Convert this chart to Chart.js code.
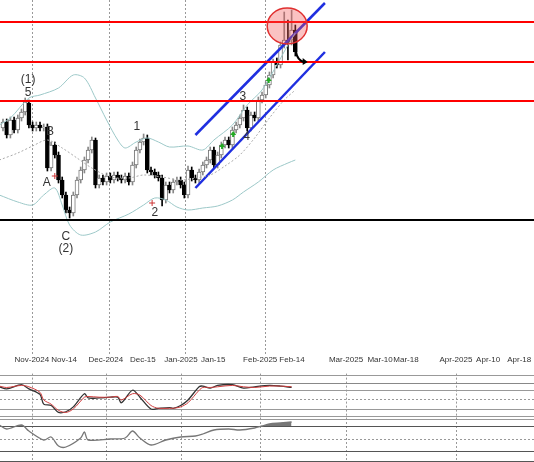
<!DOCTYPE html>
<html><head><meta charset="utf-8">
<script src="https://cdn.jsdelivr.net/npm/chart.js@4.4.1/dist/chart.umd.min.js"></script>
<style>
html,body{margin:0;padding:0;background:#fff;width:534px;height:462px;overflow:hidden;font-family:"Liberation Sans",Arial,sans-serif}
canvas{position:absolute;left:0}
</style></head><body>
<canvas id="main" style="top:0px" width="534" height="354"></canvas>
<canvas id="stoch" style="top:354px" width="534" height="64"></canvas>
<canvas id="vol" style="top:418px" width="534" height="44"></canvas>
<script>
// Values are in the chart's own (reversed) price units
const opens  = [128,122,135,120,130,118,112,103,125,128,125,128,127,168,145,155,180,195,210,213,195,180,170,160,150,140,185,178,182,176,180,175,178,180,176,182,165,150,142,138,170,172,175,178,200,185,190,182,180,185,195,170,178,180,172,165,160,150,165,155,145,140,145,130,125,118,110,128,115,118,100,95,85,75,62,65,45,40,40,30];
const closes = [122,135,120,130,118,112,102,125,128,125,128,127,168,145,155,180,195,210,213,195,180,170,160,150,140,185,178,182,176,180,175,178,180,176,182,165,150,142,138,170,172,175,178,200,185,190,182,180,185,195,170,178,180,172,165,160,150,165,155,145,140,145,130,125,118,110,128,115,118,100,95,85,75,62,65,45,40,42,30,52];
const highs  = [119,119,117,117,115,109,98,100,122,122,122,124,124,142,142,152,177,192,207,192,177,167,157,147,137,138,175,175,173,173,172,172,175,173,173,162,147,139,134,135,167,169,172,175,182,182,179,177,177,182,166,167,175,169,162,157,147,147,152,142,137,137,127,122,115,105,107,112,112,97,92,82,72,59,58,42,12,20,10,25];
const lows   = [131,138,138,133,133,121,115,128,131,131,131,131,171,171,158,183,198,213,218,216,198,183,173,163,153,188,188,185,185,183,183,181,183,183,185,185,168,153,145,173,175,178,181,206,203,193,193,185,188,198,198,181,183,183,175,168,163,168,168,158,148,148,148,133,128,121,131,131,121,121,103,98,88,78,68,68,48,60,45,56];
const bbUpper = [[-1,125],[2,118],[7,98],[10,95],[15,88],[19,75],[22,78],[25,98],[28,120],[31,140],[33,148],[36,142],[39,138],[42,142],[45,147],[50,146],[54,150],[57,140],[62,125],[66,105],[70,90],[74,65],[77,45],[79,33]];
const bbMiddle = [[-1,160],[4,153],[8,146],[12,140],[16,148],[20,158],[24,168],[29,177],[34,178],[38,175],[43,177],[48,180],[52,178],[56,175],[60,166],[64,155],[68,138],[72,118],[76,100],[79,90]];
const bbLower = [[-1,195],[4,202],[8,205],[11,195],[14,188],[16,205],[18,225],[21,235],[25,232],[29,222],[34,214],[38,205],[41,198],[44,200],[47,207],[50,210],[54,208],[58,206],[62,200],[65,192],[69,182],[73,170],[77,163],[79,160]];
const stochK = [[-1,373],[1,376],[5,370],[7,376],[10,384],[11,398],[13,400],[15,410],[17,409],[19,402],[22,383],[23,389],[26,389],[29,388],[31,388],[32,396],[35,378],[37,388],[40,405],[42,404],[45,403],[46,404],[48,400],[50,392],[53,373],[54,372],[56,375],[58,371],[62,370],[65,375],[68,373],[72,371],[75,372],[78,374]];
const stochD = [[-1,372],[1,374],[5,371],[7,373],[10,381],[11,392],[13,398],[15,407],[17,410],[19,405],[22,388],[23,387],[26,388],[29,388],[31,387],[32,392],[35,383],[37,385],[40,400],[42,404],[45,404],[46,404],[48,402],[50,396],[53,378],[54,374],[56,374],[58,373],[62,371],[65,373],[68,374],[72,372],[75,372],[78,373]];
const momentum = [[-1,425],[1,429],[5,425],[7,431],[11,440],[13,437],[15,446],[17,447],[21,438],[22,432],[23,440],[29,439],[33,438],[35,431],[37,438],[40,445],[44,440],[48,437],[52,436],[54,434],[57,430],[61,429],[64,430],[68,428],[70,426],[72,424],[75,423],[78,422]];
const redLevels = [22,62,101];
const blackLevel = 220;
const channelUpper = [[52,135],[87,3]];
const channelLower = [[52,188],[87,52]];
const tickLabels = ["Nov-2024","Nov-14","Dec-2024","Dec-15","Jan-2025","Jan-15","Feb-2025","Feb-14","Mar-2025","Mar-10","Mar-18","Apr-2025","Apr-10","Apr-18"];
const tickPos = [7.8,16.5,27.8,37.8,48.1,56.8,69.5,78.1,92.7,101.9,108.9,122.4,131.1,139.5];
const mainGrid = [7.8,28.6,49.2,70.8];
const waveLabels = [["(1)",6.8,80],["5",6.8,93],["B",12.7,132],["A",11.8,183],["C",17,237],["(2)",17,249],["1",36.2,127],["2",41,213],["3",64.8,97],["4",65.8,137]];

const XMIN=-0.81, XMAX=143.5;
const idx = opens.map((_,i)=>i);
const pts = a=>a.map(p=>({x:p[0],y:p[1]}));
const lineDs=(d,c,dash,w)=>({type:'line',data:pts(d),borderColor:c,borderWidth:w||1,borderDash:dash||[],pointRadius:0,tension:0.3,fill:false});

const overlay = {
  id:'overlay',
  beforeDatasetsDraw(ch){
    const {ctx,chartArea:a,scales:{x,y}}=ch;
    ctx.save();
    ctx.setLineDash([2,2]);ctx.strokeStyle='#999';ctx.lineWidth=1;
    (ch.canvas.id==='main'?mainGrid:tickPos.filter((_,i)=>[0,2,4,6,8,11].includes(i))).forEach(v=>{const px=Math.round(x.getPixelForValue(v))+0.5;ctx.beginPath();ctx.moveTo(px,a.top);ctx.lineTo(px,a.bottom);ctx.stroke();});
    ctx.restore();
  },
  afterDatasetsDraw(ch){
    if(ch.canvas.id!=='main')return;
    const {ctx,scales:{x,y}}=ch;
    ctx.save();
    redLevels.forEach(v=>{ctx.strokeStyle='#f00';ctx.lineWidth=2;ctx.beginPath();ctx.moveTo(0,y.getPixelForValue(v));ctx.lineTo(534,y.getPixelForValue(v));ctx.stroke();});
    ctx.strokeStyle='#000';ctx.lineWidth=2;ctx.beginPath();ctx.moveTo(0,y.getPixelForValue(blackLevel));ctx.lineTo(534,y.getPixelForValue(blackLevel));ctx.stroke();
    const cx=x.getPixelForValue(76.8), cy=y.getPixelForValue(26);
    ctx.beginPath();ctx.ellipse(cx,cy,20,18,0,0,Math.PI*2);ctx.fillStyle='rgba(240,80,80,0.35)';ctx.fill();ctx.strokeStyle='#e03030';ctx.lineWidth=1.5;ctx.stroke();
    ctx.strokeStyle='#000';ctx.lineWidth=2;ctx.beginPath();
    ctx.moveTo(x.getPixelForValue(79.2),y.getPixelForValue(52));ctx.quadraticCurveTo(x.getPixelForValue(79.5),y.getPixelForValue(60),x.getPixelForValue(81.3),y.getPixelForValue(62));ctx.stroke();
    const ax=x.getPixelForValue(81.8),ay=y.getPixelForValue(62);
    ctx.fillStyle='#000';ctx.beginPath();ctx.moveTo(ax+2,ay);ctx.lineTo(ax-3,ay-4);ctx.lineTo(ax-3,ay+3);ctx.closePath();ctx.fill();
    ctx.fillStyle='#2a2';[[59.2,146],[62.2,134],[71.8,80]].forEach(p=>{const px=x.getPixelForValue(p[0]),py=y.getPixelForValue(p[1]);ctx.beginPath();ctx.moveTo(px,py-3);ctx.lineTo(px+3,py+1);ctx.lineTo(px-3,py+1);ctx.fill();ctx.fillRect(px-1,py,2,3);});
    ctx.strokeStyle='#c33';ctx.lineWidth=1;[[14,176],[40.3,203]].forEach(p=>{const px=x.getPixelForValue(p[0]),py=y.getPixelForValue(p[1]);ctx.beginPath();ctx.moveTo(px-3,py);ctx.lineTo(px+3,py);ctx.moveTo(px,py-3);ctx.lineTo(px,py+3);ctx.stroke();});
    ctx.fillStyle='#333';ctx.font='12px "Liberation Sans",Arial';ctx.textAlign='center';ctx.textBaseline='middle';
    waveLabels.forEach(l=>ctx.fillText(l[0],x.getPixelForValue(l[1]),y.getPixelForValue(l[2])));
    ctx.restore();
  }
};
const panelLines = {
  id:'panelLines',
  beforeDatasetsDraw(ch){
    const {ctx,scales:{y}}=ch;const L=ch.options.plugins.panelLines.levels;
    ctx.save();
    L.forEach(l=>{ctx.strokeStyle=l[1];ctx.lineWidth=1;ctx.setLineDash(l[2]?[2,2]:[]);const py=Math.round(y.getPixelForValue(l[0]))+0.5;ctx.beginPath();ctx.moveTo(0,py);ctx.lineTo(534,py);ctx.stroke();});
    ctx.restore();
  }
};
const xBase = {type:'linear',min:XMIN,max:XMAX,display:false,offset:false};
const common = {responsive:false,animation:false,layout:{padding:0},plugins:{legend:{display:false},tooltip:{enabled:false}}};

new Chart(document.getElementById('main'),{
  data:{labels:idx,datasets:[
    lineDs(bbUpper,'#9cc8c8'),lineDs(bbMiddle,'#aaa',[2,2]),lineDs(bbLower,'#9cc8c8'),
    {type:'bar',data:idx.map(i=>({x:i,y:[highs[i],lows[i]]})),backgroundColor:idx.map(i=>closes[i]>opens[i]?'#000':'#888'),barThickness:1,grouped:false,order:2},
    {type:'bar',data:idx.map(i=>({x:i,y:[opens[i],closes[i]===opens[i]?opens[i]+1:closes[i]]})),backgroundColor:idx.map(i=>closes[i]>opens[i]?'#000':'#fff'),borderColor:idx.map(i=>closes[i]>opens[i]?'#000':'#777'),borderWidth:1,borderSkipped:false,barThickness:4,grouped:false,order:1},
    {type:'line',data:pts(channelUpper),borderColor:'#1f2fe0',borderWidth:2.5,pointRadius:0,fill:false,order:0},
    {type:'line',data:pts(channelLower),borderColor:'#1f2fe0',borderWidth:2.5,pointRadius:0,fill:false,order:0}
  ]},
  options:{...common,scales:{x:xBase,y:{display:false,reverse:true,min:0,max:354}}},
  plugins:[overlay]
});

new Chart(document.getElementById('stoch'),{
  type:'line',
  data:{datasets:[lineDs(stochD,'#d04040',[],1),lineDs(stochK,'#333',[],1.3)]},
  options:{...common,plugins:{...common.plugins,panelLines:{levels:[[356,'#999'],[367,'#888'],[377,'#999'],[391,'#999',true],[405,'#999'],[415,'#999']]}},
    scales:{x:{type:'linear',min:XMIN,max:XMAX,offset:false,position:'top',afterBuildTicks:s=>{s.ticks=tickPos.map(v=>({value:v}));},
      ticks:{callback:(v)=>{const k=tickPos.indexOf(v);return k>=0?tickLabels[k]:'';},font:{size:8,family:'"Liberation Sans",Arial'},color:'#333',maxRotation:0,autoSkip:false,padding:1},
      grid:{display:false},border:{display:false}},
      y:{display:false,reverse:true,min:354,max:418}}},
  plugins:[overlay,panelLines]
});

new Chart(document.getElementById('vol'),{
  type:'line',
  data:{datasets:[{...lineDs(momentum,'#777',[],1.3),fill:{target:{value:426},above:'#777',below:'transparent'}}]},
  options:{...common,plugins:{...common.plugins,panelLines:{levels:[[419,'#999'],[426,'#555'],[439,'#999',true],[451,'#555'],[461,'#555']]}},
    scales:{x:xBase,y:{display:false,reverse:true,min:418,max:462}}},
  plugins:[overlay,panelLines]
});
</script></body></html>
